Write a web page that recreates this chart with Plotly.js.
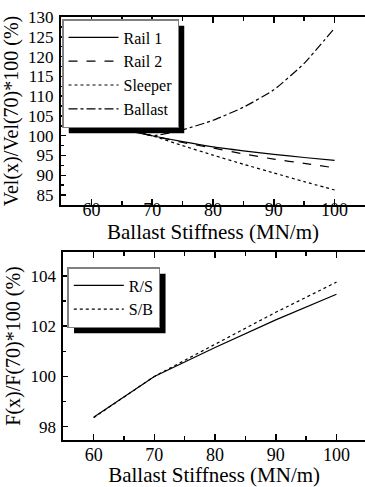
<!DOCTYPE html>
<html><head><meta charset="utf-8">
<script src="https://cdn.plot.ly/plotly-3.0.1.min.js"></script>
<style>html,body{margin:0;padding:0;background:#fff;}</style>
</head><body><div id="chart" style="width:365px;height:487px;"></div>
<script>
// ---- data ----
const stiffness = [60, 65, 70, 75, 80, 85, 90, 95, 100];
const rail1   = [103.3, 101.6, 100, 98.5, 97.2, 96.2, 95.3, 94.5, 93.8];
const rail2   = [104.3, 102.0, 100, 98.3, 96.9, 95.4, 94.1, 93.0, 91.9];
const sleeper = [105.2, 102.5, 100, 97.5, 95.1, 92.8, 90.6, 88.4, 86.3];
const ballast = [104.6, 102.2, 100, 101.5, 103.9, 107.2, 111.6, 118.3, 127.2];
const topNames = ['Rail 1', 'Rail 2', 'Sleeper', 'Ballast'];

const stiffness2 = [60, 70, 80, 90, 100];
const rs = [98.38, 100, 101.15, 102.25, 103.27];
const sb = [98.36, 100, 101.28, 102.55, 103.75];
const bottomNames = ['R/S', 'S/B'];

const xTitle = 'Ballast Stiffness (MN/m)';
const yTitleTop = 'Vel(x)/Vel(70)*100 (%)';
const yTitleBottom = 'F(x)/F(70)*100 (%)';

// ---- styling ----
const FONT = 'Liberation Serif';
const W = 365, H = 487;
const M = {l: 61, r: 0, t: 17, b: 47};
const PW = W - M.l - M.r, PH = H - M.t - M.b;

function ln(dash) { return {color: '#000', width: 1.2, dash: dash}; }

const traces = [
  {x: stiffness, y: rail1, name: topNames[0], mode: 'lines', line: Object.assign(ln('solid'), {shape: 'spline', smoothing: 0.5}), xaxis: 'x', yaxis: 'y', legend: 'legend'},
  {x: stiffness, y: rail2, name: topNames[1], mode: 'lines', line: Object.assign(ln('dash'), {shape: 'spline', smoothing: 0.5}), xaxis: 'x', yaxis: 'y', legend: 'legend'},
  {x: stiffness, y: sleeper, name: topNames[2], mode: 'lines', line: Object.assign(ln('dot'), {shape: 'spline', smoothing: 0.5}), xaxis: 'x', yaxis: 'y', legend: 'legend'},
  {x: stiffness, y: ballast, name: topNames[3], mode: 'lines', line: Object.assign(ln('dashdot'), {shape: 'spline', smoothing: 0.5}), xaxis: 'x', yaxis: 'y', legend: 'legend'},
  {x: stiffness2, y: rs, name: bottomNames[0], mode: 'lines', line: ln('solid'), xaxis: 'x2', yaxis: 'y2', legend: 'legend2'},
  {x: stiffness2, y: sb, name: bottomNames[1], mode: 'lines', line: ln('dot'), xaxis: 'x2', yaxis: 'y2', legend: 'legend2'}
];

const axBase = {
  showline: true, linecolor: '#000', linewidth: 2,
  ticks: 'inside', tickcolor: '#000', tickwidth: 1.5,
  showgrid: false, zeroline: false, fixedrange: true
};

function px2x(px) { return (px - M.l) / PW; }
function px2y(py) { return 1 - (py - M.t) / PH; }

function shadowShape(L, T, R, B) {
  return {type: 'rect', xref: 'paper', yref: 'paper', layer: 'above',
    x0: px2x(L + 6), x1: px2x(R + 6), y0: px2y(B + 6), y1: px2y(T + 6),
    fillcolor: '#000', line: {width: 0}};
}

const layout = {
  width: W, height: H,
  margin: M,
  paper_bgcolor: '#fff', plot_bgcolor: '#fff',
  font: {family: FONT, color: '#000', size: 18},
  showlegend: true,
  xaxis: Object.assign({}, axBase, {
    domain: [0, 1], range: [55, 105], anchor: 'y', mirror: 'ticks',
    dtick: 10, tick0: 60, ticklen: 6, ticklabelstandoff: -13,
    minor: {dtick: 5, tick0: 55, ticks: 'inside', ticklen: 4, tickcolor: '#000', tickwidth: 1.5},
    tickfont: {size: 18, family: FONT},
    title: {text: xTitle, font: {size: 21, family: FONT}, standoff: 0}
  }),
  yaxis: Object.assign({}, axBase, {
    domain: [1 - (205 - M.t) / PH, 1], range: [82.5, 130], anchor: 'x', mirror: false,
    dtick: 5, tick0: 85, ticklen: 5, ticklabelstandoff: 2,
    minor: {dtick: 2.5, ticks: 'inside', ticklen: 3, tickcolor: '#000', tickwidth: 1.5},
    tickfont: {size: 17, family: FONT},
    title: {text: yTitleTop, font: {size: 20, family: FONT}, standoff: 4}
  }),
  xaxis2: Object.assign({}, axBase, {
    domain: [px2x(63.3), 1], range: [55, 104.7], anchor: 'y2', mirror: 'ticks',
    dtick: 10, tick0: 60, ticklen: 6, ticklabelstandoff: -3,
    minor: {dtick: 5, tick0: 55, ticks: 'inside', ticklen: 4, tickcolor: '#000', tickwidth: 1.5},
    tickfont: {size: 18, family: FONT},
    title: {text: xTitle, font: {size: 21, family: FONT}, standoff: 0}
  }),
  yaxis2: Object.assign({}, axBase, {
    domain: [0, 1 - (252 - M.t) / PH], range: [97.47, 104.95], anchor: 'x2', mirror: false,
    dtick: 2, tick0: 98, ticklen: 5, ticklabelstandoff: 2,
    minor: {dtick: 1, ticks: 'inside', ticklen: 3, tickcolor: '#000', tickwidth: 1.5},
    tickfont: {size: 17, family: FONT},
    title: {text: yTitleBottom, font: {size: 20, family: FONT}, standoff: 4}
  }),
  legend: {
    x: px2x(62), y: px2y(19), xanchor: 'left', yanchor: 'top',
    bgcolor: '#fff', bordercolor: '#808080', borderwidth: 1.5, itemwidth: 50,
    font: {size: 16, family: FONT}, tracegroupgap: 0, itemclick: false
  },
  legend2: {
    x: px2x(67.3), y: px2y(267), xanchor: 'left', yanchor: 'top',
    bgcolor: '#fff', bordercolor: '#808080', borderwidth: 1.5, itemwidth: 50,
    font: {size: 16, family: FONT}, tracegroupgap: 0, itemclick: false
  },
  // drop-shadows behind the legend boxes (estimated; refined after drawing)
  shapes: [shadowShape(62, 19, 165, 124), shadowShape(67, 267, 158, 321)]
};

const gd = document.getElementById('chart');
function refineShadows() {
  const root = gd.getBoundingClientRect();
  const shapes = [];
  ['g.legend', 'g.legend2'].forEach(function (sel) {
    const bg = gd.querySelector(sel + ' rect.bg');
    if (!bg) return;
    const r = bg.getBoundingClientRect();
    if (r.width < 10 || r.height < 10) return;
    shapes.push(shadowShape(r.left - root.left, r.top - root.top, r.right - root.left, r.bottom - root.top));
  });
  if (shapes.length === 2) return Plotly.relayout(gd, {shapes: shapes});
}
Plotly.newPlot(gd, traces, layout, {staticPlot: true, displayModeBar: false}).then(refineShadows);
</script>
</body></html>
